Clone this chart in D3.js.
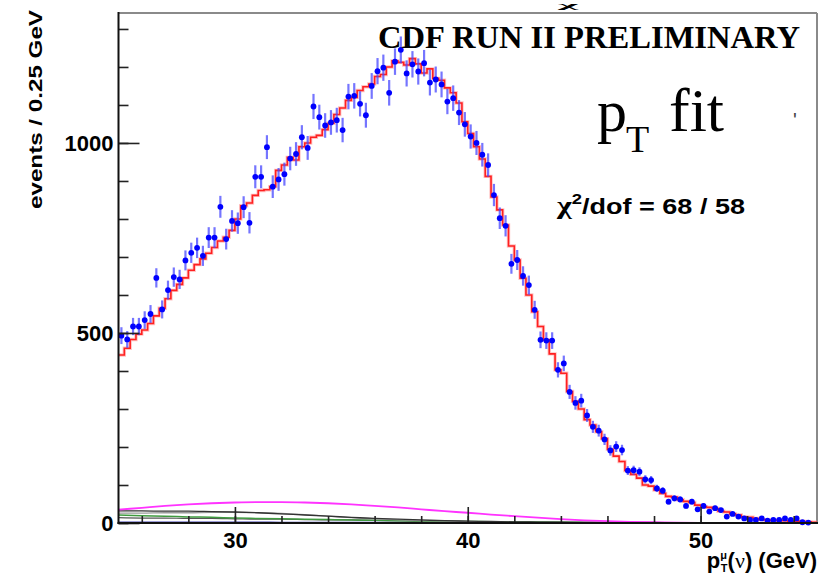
<!DOCTYPE html>
<html><head><meta charset="utf-8">
<script src="https://cdn.jsdelivr.net/npm/d3@7"></script>
<style>body{margin:0;background:#fff} svg{display:block}</style>
</head><body>
<script>
// ---------------- data ----------------
const binStart = 25, binWidth = 0.25;            // GeV
const dataCounts = [
 493,483,517,517,534,550,645,562,613,647,641,691,711,724,703,751,751,832,747,795,
 789,831,790,911,911,989,885,904,918,959,971,1015,987,1096,1068,1046,1054,1060,1034,1122,
 1124,1103,1073,1150,1189,1198,1132,1214,1245,1183,1207,1188,1210,1159,1167,1154,1109,1118,1080,1049,
 1017,1000,969,942,863,802,782,682,692,650,626,561,482,480,480,403,420,345,316,322,
 283,253,243,220,191,201,192,138,139,135,115,113,91,85,56,65,62,45,56,36,
 45,30,39,34,17,24,17,12,8,8,12,6,8,8,12,8,12,2,1,null];
const fitCounts = [
 442,460,483,497,508,525,545,565,590,612,628,645,665,680,695,710,725,742,752,770,
 800,835,842,862,875,877,885,928,942,962,955,990,1000,1015,1020,1035,1052,1075,1092,1112,
 1120,1138,1148,1155,1175,1180,1200,1216,1212,1205,1222,1208,1184,1195,1170,1165,1145,1132,1105,1056,
 1025,990,958,912,858,824,784,729,692,644,600,556,517,482,445,403,394,346,320,300,
 272,258,240,222,194,176,162,138,128,118,100,97,87,78,70,68,61,57,54,47,
 43,41,38,31,29,24,21,16,15,12,9,8,7,7,6,5,5,4,3,2];
// background components sampled at these pT values (GeV)
const bkgGeV      = [25,26,27,28,29,30,31,32,33,34,35,36,37,38,39,40,41,42,43,44,45,46,47,48,49,50,52,55];
const bkgMagenta  = [35,40,45,49,52,54,55,55,54,52,49,45,41,36,31,27,22,18,14,10,7,5,3,2,1,0.5,0,0];
const bkgBlack    = [32,32,31,31,30,29,27,24,21,18,15,12,10,8,6,5,4,3,2.5,2,1.5,1,1,0.5,0.5,0.5,0,0];
const bkgGray     = [26,26,27,27,28,28,27,25,22,18,14,11,8,6,5,4,3,2,1.5,1,1,0.5,0.5,0.5,0,0,0,0];
const bkgGreen    = [21,19,18,16,15,13,12,11,10,9,8,7,6,5,4.5,4,3.5,3,2.5,2,1.5,1,1,1,0.5,0.5,0,0];
const bkgDark     = [14,13,13,12,12,11,10,10,9,8,8,7,6,5,5,4,3.5,3,2.5,2,1.5,1.5,1,1,0.5,0.5,0,0];
const bkgBlue     = [2,2,2,2,2,2,2,1.5,1.5,1.5,1.5,1.5,1,1,1,1,1,1,0.5,0.5,0.5,0.5,0.5,0,0,0,0,0];
const yMajorTicks = [0,500,1000];
const xMajorTicks = [30,40,50];

// ---------------- layout ----------------
const W = 829, H = 576;
const L = 118.5, R = 817, T = 13, B = 523;
const x = d3.scaleLinear().domain([25,55]).range([L,R]);
const y = d3.scaleLinear().domain([0,1342]).range([B,T]);
const sans = "'Liberation Sans', Arial, Helvetica, sans-serif";
const serif = "'Liberation Serif', 'Times New Roman', Times, serif";

const svg = d3.select("body").append("svg").attr("width",W).attr("height",H);
svg.append("rect").attr("width",W).attr("height",H).attr("fill","#fff");

// frame: top/right grey
svg.append("line").attr("x1",L).attr("x2",R).attr("y1",T).attr("y2",T).attr("stroke","#8a8a8a").attr("stroke-width",2);
svg.append("line").attr("x1",R).attr("x2",R).attr("y1",T).attr("y2",B).attr("stroke","#8a8a8a").attr("stroke-width",2);

// background curves
const bkgLine = arr => d3.line().curve(d3.curveMonotoneX).x((d,i)=>x(bkgGeV[i])).y(d=>y(d))(arr);
[[bkgBlue,"#3a3ab0",1.5],[bkgDark,"#555",1.2],[bkgGreen,"#3f9a3f",1.5],[bkgGray,"#9a9a9a",1.3],[bkgBlack,"#333",1.3],[bkgMagenta,"#ff33ff",1.8]]
 .forEach(([arr,c,w])=>svg.append("path").attr("d",bkgLine(arr)).attr("fill","none").attr("stroke",c).attr("stroke-width",w));

// fit histogram (step)
const edges = fitCounts.map((v,i)=>[binStart+i*binWidth, v]);
edges.push([binStart+fitCounts.length*binWidth, fitCounts[fitCounts.length-1]]);
const stepLine = d3.line().curve(d3.curveStepAfter).x(d=>x(d[0])).y(d=>y(d[1]));
svg.append("path").attr("d",stepLine(edges)).attr("fill","none").attr("stroke","#ff9a9a").attr("stroke-width",3.4).attr("opacity",0.6);
svg.append("path").attr("d",stepLine(edges)).attr("fill","none").attr("stroke","#ff2020").attr("stroke-width",1.6);

// data points
const pts = dataCounts.map((v,i)=>({c: binStart+(i+0.5)*binWidth, v})).filter(d=>d.v!==null);
svg.append("g").selectAll("line").data(pts).join("line")
  .attr("x1",d=>x(d.c)).attr("x2",d=>x(d.c))
  .attr("y1",d=>y(d.v+Math.sqrt(d.v))).attr("y2",d=>y(Math.max(0,d.v-Math.sqrt(d.v))))
  .attr("stroke","#4848ff").attr("stroke-width",2.2).attr("opacity",0.75);
svg.append("g").selectAll("circle").data(pts).join("circle")
  .attr("cx",d=>x(d.c)).attr("cy",d=>y(d.v)).attr("r",2.9).attr("fill","#0000ff");

// axes
const yAxisMinor = d3.axisLeft(y).tickValues(d3.range(0,1400,100)).tickSize(-10).tickFormat("");
const gyMinor = svg.append("g").attr("transform",`translate(${L},0)`).call(yAxisMinor);
const yAxis = d3.axisLeft(y).tickValues(yMajorTicks).tickSize(-21).tickPadding(5).tickFormat(d3.format("d"));
const gy = svg.append("g").attr("transform",`translate(${L},0)`).call(yAxis);
const xAxisMinor = d3.axisBottom(x).tickValues(d3.range(26,56,2)).tickSize(-7).tickFormat("");
const gxMinor = svg.append("g").attr("transform",`translate(0,${B})`).call(xAxisMinor);
const xAxis = d3.axisBottom(x).tickValues(xMajorTicks).tickSize(-16).tickPadding(9).tickFormat(d3.format("d"));
const gx = svg.append("g").attr("transform",`translate(0,${B})`).call(xAxis);
[gyMinor,gy,gxMinor,gx].forEach(g=>{
  g.select(".domain").remove();
  g.selectAll(".tick line").attr("stroke","#222").attr("stroke-width",1.6);
  g.selectAll("text").attr("font-family",sans).attr("font-weight","bold").attr("font-size",22).attr("fill","#000");
});
svg.append("line").attr("x1",L).attr("x2",L).attr("y1",T-1).attr("y2",B+1).attr("stroke","#111").attr("stroke-width",2);
svg.append("line").attr("x1",L-1).attr("x2",R+1).attr("y1",B).attr("y2",B).attr("stroke","#111").attr("stroke-width",2);

// axis titles
svg.append("text").attr("transform","translate(42,10) rotate(-90)").attr("text-anchor","end")
  .attr("font-family",sans).attr("font-weight","bold").attr("font-size",19)
  .attr("textLength",199).attr("lengthAdjust","spacingAndGlyphs").text("events / 0.25 GeV");

const xt = svg.append("text").attr("x",817).attr("y",568).attr("text-anchor","end")
  .attr("font-family",sans).attr("font-weight","bold").attr("font-size",22);
xt.append("tspan").text("p");
xt.append("tspan").attr("font-size",11).attr("dy",-9).text("μ");
xt.append("tspan").attr("font-size",11).attr("dx",-6).attr("dy",13).text("T");
xt.append("tspan").attr("dy",-4).text("(");
xt.append("tspan").attr("font-family",serif).attr("font-weight","normal").text("ν");
xt.append("tspan").text(") (GeV)");

// annotations
svg.append("text").attr("x",378).attr("y",48).attr("font-family",serif).attr("font-weight","bold")
  .attr("font-size",31).attr("textLength",422).attr("lengthAdjust","spacingAndGlyphs").text("CDF RUN II PRELIMINARY");
svg.append("text").attr("x",558).attr("y",8).attr("font-family",serif)
  .attr("font-weight","bold").attr("font-size",8).attr("textLength",20).attr("lengthAdjust","spacingAndGlyphs").text("χ");
svg.append("text").attr("x",597).attr("y",131).attr("font-family",serif).attr("font-size",60).text("p");
svg.append("text").attr("x",626).attr("y",152).attr("font-family",serif).attr("font-size",38).text("T");
svg.append("text").attr("x",669).attr("y",131).attr("font-family",serif).attr("font-size",62).text("fit");
svg.append("text").attr("x",793).attr("y",127).attr("font-family",sans).attr("font-size",20).attr("fill","#444").text("'");

const chi = svg.append("text").attr("x",557).attr("y",214).attr("font-family",sans).attr("font-weight","bold")
  .attr("font-size",22).attr("textLength",188).attr("lengthAdjust","spacingAndGlyphs");
chi.append("tspan").attr("font-family",serif).attr("font-weight","bold").attr("font-size",26).text("χ");
chi.append("tspan").attr("font-size",15).attr("dy",-10).text("2");
chi.append("tspan").attr("dy",10).text("/dof = 68 / 58");
</script>
</body></html>
